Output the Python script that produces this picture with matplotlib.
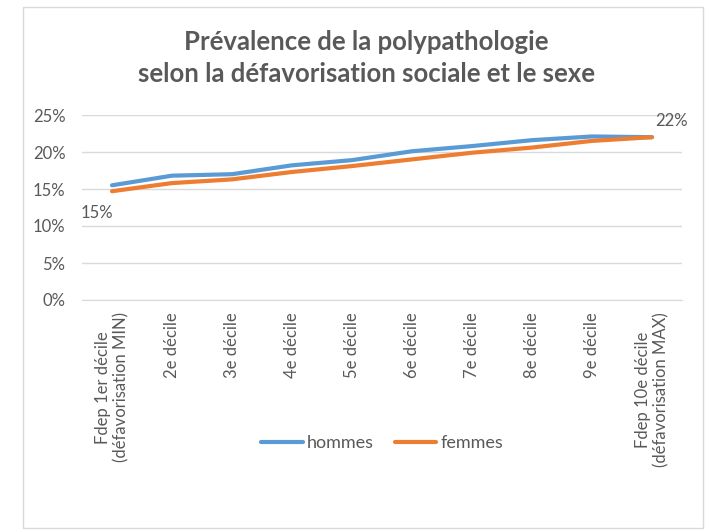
import matplotlib

matplotlib.use("Agg")
import matplotlib.pyplot as plt
from matplotlib.patches import Rectangle
from matplotlib.ticker import PercentFormatter

plt.rcParams["font.family"] = ["Lato", "DejaVu Sans"]

CATEGORIES = [
    "Fdep 1er décile\n(défavorisation MIN)",
    "2e décile",
    "3e décile",
    "4e décile",
    "5e décile",
    "6e décile",
    "7e décile",
    "8e décile",
    "9e décile",
    "Fdep 10e décile\n(défavorisation MAX)",
]
HOMMES = [15.5, 16.8, 17.0, 18.2, 18.9, 20.1, 20.8, 21.6, 22.1, 22.0]
FEMMES = [14.7, 15.8, 16.3, 17.3, 18.1, 19.0, 19.9, 20.6, 21.5, 22.0]
Y_TICKS = [0, 5, 10, 15, 20, 25]

BLUE = "#5B9BD5"
ORANGE = "#ED7D31"
GREY_TXT = "#595959"
GRID = "#D9D9D9"

W, H = 711, 530
fig = plt.figure(figsize=(W / 100, H / 100), dpi=100)

# chart frame
fig.patches.append(Rectangle((23 / W, 2 / H), 680 / W, 521 / H, transform=fig.transFigure,
                             fill=False, edgecolor=GRID, linewidth=1.0))

ax = fig.add_axes([82 / W, (H - 300) / H, 600 / W, 185 / H])
x = list(range(len(CATEGORIES)))
ax.plot(x, HOMMES, color=BLUE, linewidth=3.0, label="hommes", solid_capstyle="round")
ax.plot(x, FEMMES, color=ORANGE, linewidth=3.0, label="femmes", solid_capstyle="round")

ax.set_xlim(-0.5, len(CATEGORIES) - 0.5)
ax.set_ylim(0, 25)
ax.set_yticks(Y_TICKS)
ax.yaxis.set_major_formatter(PercentFormatter(decimals=0))
ax.grid(axis="y", color=GRID, linewidth=1.0)
ax.set_axisbelow(True)
for side in ["top", "right", "left"]:
    ax.spines[side].set_visible(False)
ax.spines["bottom"].set_color(GRID)
ax.set_xticks(x)
ax.set_xticklabels(CATEGORIES, rotation=90, fontsize=12, color=GREY_TXT)
ax.tick_params(axis="x", length=0, pad=9)
ax.tick_params(axis="y", length=0, pad=12, labelsize=12, labelcolor=GREY_TXT)

# data labels at the ends
ax.annotate(f"{round(FEMMES[0]):.0f}%", (x[0], FEMMES[0]), xytext=(-15, -22),
            textcoords="offset pixels", ha="center", va="center",
            fontsize=12, color=GREY_TXT)
ax.annotate(f"{round(HOMMES[-1]):.0f}%", (x[-1], HOMMES[-1]), xytext=(20, 16),
            textcoords="offset pixels", ha="center", va="center",
            fontsize=12, color=GREY_TXT)

fig.text(366 / W, 1 - 58 / H,
         "Prévalence de la polypathologie\nselon la défavorisation sociale et le sexe",
         ha="center", va="center", fontsize=18.5, fontweight="bold", color=GREY_TXT,
         linespacing=1.42)

fig.legend(loc="center", bbox_to_anchor=(382 / W, 1 - 443 / H), ncol=2, frameon=False,
           fontsize=13, handlelength=2.3, handletextpad=0.2, columnspacing=1.2,
           labelcolor=GREY_TXT)

fig.savefig("out.png", dpi=100)
